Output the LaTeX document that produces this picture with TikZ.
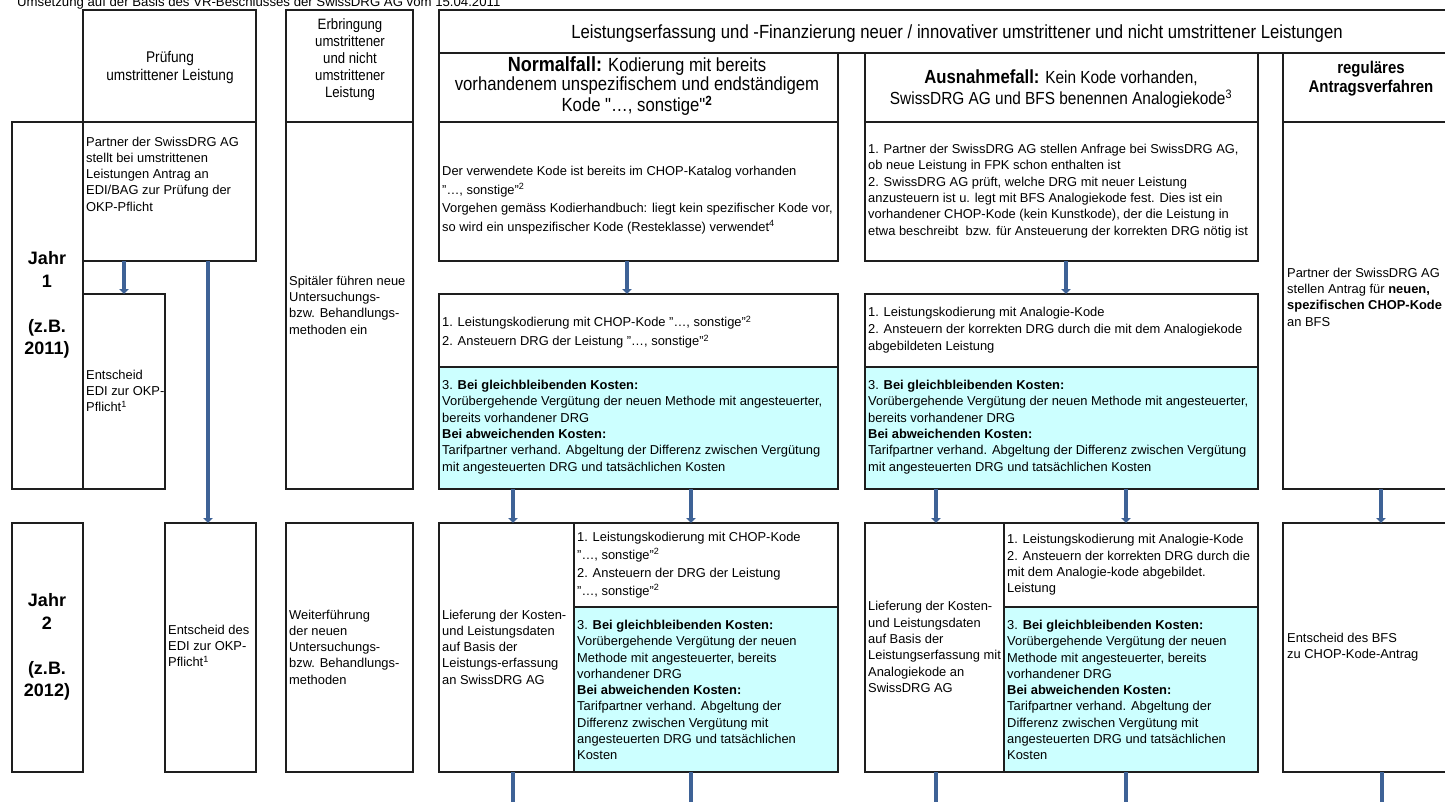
\documentclass[tikz,border=0pt]{standalone}
\usepackage{fontspec}
\setmainfont{Liberation Sans}
\newfontfamily\narrowfont[FakeStretch=0.88]{Liberation Sans}
\usetikzlibrary{arrows.meta,calc}
\definecolor{boxblue}{RGB}{204,255,255}
\definecolor{arrowblue}{RGB}{62,98,150}
\definecolor{lineclr}{RGB}{30,30,30}
\newcommand{\bodyf}{\fontsize{12.9pt}{16.3pt}\selectfont}
\newcommand{\headf}{\narrowfont\fontsize{15.5pt}{18pt}\selectfont}
\newcommand{\bx}[6][]{\node[box,#1,minimum width=#5pt,minimum height=#6pt] (#2) at (#3,#4) {};}
\begin{document}
\begin{tikzpicture}[x=1pt,y=-1pt,
  box/.style={draw=lineclr,line width=1.3pt,anchor=north west,inner sep=0pt,outer sep=0pt},
  txt/.style={anchor=west,align=left,inner sep=0pt,font=\bodyf},
  hdr/.style={anchor=center,align=center,inner sep=0pt,font=\headf},
  jahr/.style={anchor=center,align=center,inner sep=0pt,font=\bfseries\fontsize{18pt}{22.5pt}\selectfont},
  arr/.style={draw=arrowblue,line width=4.5pt,-{Triangle[width=9.5pt,length=5pt]}},
  arrline/.style={draw=arrowblue,line width=4.5pt}]
\useasboundingbox (0,0) rectangle (1445,801);
% title (cut at the top edge, as in the original)
\node[anchor=base west,inner sep=0pt,font=\fontsize{13.2pt}{15pt}\selectfont] (title) at (17,6) {Umsetzung auf der Basis des VR-Beschlusses der SwissDRG AG vom 15.04.2011};
% header boxes
\bx{hP}{83}{10}{173}{112}
\bx{hE}{286}{10}{127}{112}
\bx{hL}{439}{10}{1021}{43}
\bx{hN}{439}{53}{399}{69}
\bx{hA}{865}{53}{393}{69}
\bx{hR}{1283}{53}{177}{69}
% row 1
\bx{j1}{12}{122}{71}{367}
\bx{p1}{83}{122}{173}{139}
\bx{e1}{83}{294}{82}{195}
\bx{s1}{286}{122}{127}{367}
\bx{n1}{439}{122}{399}{139}
\bx{n2}{439}{294}{399}{73}
\bx[fill=boxblue]{n3}{439}{367}{399}{122}
\bx{a1}{865}{122}{393}{139}
\bx{a2}{865}{294}{393}{73}
\bx[fill=boxblue]{a3}{865}{367}{393}{122}
\bx{r1}{1283}{122}{177}{367}
% row 2
\bx{j2}{12}{523}{71}{249}
\bx{e2}{165}{523}{91}{249}
\bx{w2}{286}{523}{127}{249}
\bx{nl}{439}{523}{135}{249}
\bx{nw}{574}{523}{264}{84}
\bx[fill=boxblue]{nb}{574}{607}{264}{165}
\bx{al}{865}{523}{139}{249}
\bx{aw}{1004}{523}{254}{84}
\bx[fill=boxblue]{ab}{1004}{607}{254}{165}
\bx{r2}{1283}{523}{177}{249}
% header texts
\node[hdr] (tP) at (170,67) {Prüfung\\umstrittener Leistung};
\node[hdr,font=\narrowfont\fontsize{15pt}{17pt}\selectfont] (tE) at (350,60) {Erbringung\\umstrittener\\und nicht\\umstrittener\\Leistung};
\node[hdr,font=\narrowfont\fontsize{19pt}{20pt}\selectfont] (tL) at (957,34) {Leistungserfassung und -Finanzierung neuer / innovativer umstrittener und nicht umstrittener Leistungen};
\node[hdr,font=\narrowfont\fontsize{19pt}{19.5pt}\selectfont] (tN) at (637,86) {{\bfseries\fontsize{20.5pt}{19.5pt}\selectfont Normalfall:} Kodierung mit bereits\\vorhandenem unspezifischem und endständigem\\Kode "…, sonstige"\textsuperscript{\bfseries 2}};
\node[hdr,font=\narrowfont\fontsize{17.5pt}{21pt}\selectfont] (tA) at (1061,89) {{\bfseries\fontsize{19pt}{21pt}\selectfont Ausnahmefall:} Kein Kode vorhanden,\\SwissDRG AG und BFS benennen Analogiekode\textsuperscript{3}};
\node[hdr,font=\narrowfont\bfseries\fontsize{17pt}{19pt}\selectfont] (tR) at (1371,79) {reguläres\\Antragsverfahren};
% Jahr
\node[jahr] (tJ1) at (47,305) {Jahr\\1\\[22.5pt](z.B.\\2011)};
\node[jahr] (tJ2) at (47,647) {Jahr\\2\\[22.5pt](z.B.\\2012)};
% row 1 texts
\node[txt] (tp1) at (86,174) {Partner der SwissDRG AG\\stellt bei umstrittenen\\Leistungen Antrag an\\EDI/BAG zur Prüfung der\\OKP-Pflicht};
\node[txt] (te1) at (86,391) {Entscheid\\EDI zur OKP-\\Pflicht\textsuperscript{1}};
\node[txt] (ts1) at (289,305) {Spitäler führen neue\\Untersuchungs-\\bzw. Behandlungs-\\methoden ein};
\node[txt,font=\fontsize{12.9pt}{18.5pt}\selectfont] (tn1) at (442,200) {Der verwendete Kode ist bereits im CHOP-Katalog vorhanden\\"…, sonstige"\textsuperscript{2}\\Vorgehen gemäss Kodierhandbuch: liegt kein spezifischer Kode vor,\\so wird ein unspezifischer Kode (Resteklasse) verwendet\textsuperscript{4}};
\node[txt,font=\fontsize{12.9pt}{19pt}\selectfont] (tn2) at (442,332) {1. Leistungskodierung mit CHOP-Kode "…, sonstige"\textsuperscript{2}\\2. Ansteuern DRG der Leistung "…, sonstige"\textsuperscript{2}};
\node[txt] (tn3) at (442,427) {3. \textbf{Bei gleichbleibenden Kosten:}\\Vorübergehende Vergütung der neuen Methode mit angesteuerter,\\bereits vorhandener DRG\\\textbf{Bei abweichenden Kosten:}\\Tarifpartner verhand. Abgeltung der Differenz zwischen Vergütung\\mit angesteuerten DRG und tatsächlichen Kosten};
\node[txt] (ta1) at (868,191) {1. Partner der SwissDRG AG stellen Anfrage bei SwissDRG AG,\\ob neue Leistung in FPK schon enthalten ist\\2. SwissDRG AG prüft, welche DRG mit neuer Leistung\\anzusteuern ist u. legt mit BFS Analogiekode fest. Dies ist ein\\vorhandener CHOP-Kode (kein Kunstkode), der die Leistung in\\etwa beschreibt\ \ bzw. für Ansteuerung der korrekten DRG nötig ist};
\node[txt,font=\fontsize{12.9pt}{17pt}\selectfont] (ta2) at (868,330) {1. Leistungskodierung mit Analogie-Kode\\2. Ansteuern der korrekten DRG durch die mit dem Analogiekode\\abgebildeten Leistung};
\node[txt] (ta3) at (868,427) {3. \textbf{Bei gleichbleibenden Kosten:}\\Vorübergehende Vergütung der neuen Methode mit angesteuerter,\\bereits vorhandener DRG\\\textbf{Bei abweichenden Kosten:}\\Tarifpartner verhand. Abgeltung der Differenz zwischen Vergütung\\mit angesteuerten DRG und tatsächlichen Kosten};
\node[txt] (tr1) at (1287,297) {Partner der SwissDRG AG\\stellen Antrag für \textbf{neuen,}\\\textbf{spezifischen CHOP-Kode}\\an BFS};
% row 2 texts
\node[txt] (te2) at (168,646) {Entscheid des\\EDI zur OKP-\\Pflicht\textsuperscript{1}};
\node[txt] (tw2) at (289,647) {Weiterführung\\der neuen\\Untersuchungs-\\bzw. Behandlungs-\\methoden};
\node[txt] (tnl) at (442,647) {Lieferung der Kosten-\\und Leistungsdaten\\auf Basis der\\Leistungs-erfassung\\an SwissDRG AG};
\node[txt,font=\fontsize{12.9pt}{18pt}\selectfont] (tnw) at (577,565) {1. Leistungskodierung mit CHOP-Kode\\"…, sonstige"\textsuperscript{2}\\2. Ansteuern der DRG der Leistung\\"…, sonstige"\textsuperscript{2}};
\node[txt] (tnb) at (577,690) {3. \textbf{Bei gleichbleibenden Kosten:}\\Vorübergehende Vergütung der neuen\\Methode mit angesteuerter, bereits\\vorhandener DRG\\\textbf{Bei abweichenden Kosten:}\\Tarifpartner verhand. Abgeltung der\\Differenz zwischen Vergütung mit\\angesteuerten DRG und tatsächlichen\\Kosten};
\node[txt] (tal) at (868,647) {Lieferung der Kosten-\\und Leistungsdaten\\auf Basis der\\Leistungserfassung mit\\Analogiekode an\\SwissDRG AG};
\node[txt] (taw) at (1007,565) {1. Leistungskodierung mit Analogie-Kode\\2. Ansteuern der korrekten DRG durch die\\mit dem Analogie-kode abgebildet.\\Leistung};
\node[txt] (tab) at (1007,690) {3. \textbf{Bei gleichbleibenden Kosten:}\\Vorübergehende Vergütung der neuen\\Methode mit angesteuerter, bereits\\vorhandener DRG\\\textbf{Bei abweichenden Kosten:}\\Tarifpartner verhand. Abgeltung der\\Differenz zwischen Vergütung mit\\angesteuerten DRG und tatsächlichen\\Kosten};
\node[txt] (tr2) at (1287,647) {Entscheid des BFS\\zu CHOP-Kode-Antrag};
% arrows
\coordinate (xE2) at ($(e2.north)+(-2.5,0)$);
\coordinate (xN2) at ($(n2.north)+(-11.5,0)$);
\coordinate (xA2) at ($(a2.north)+(4.5,0)$);
\coordinate (xNL) at ($(nl.north)+(6.5,0)$);
\coordinate (xNW) at ($(nw.north)+(-15,0)$);
\coordinate (xAL) at ($(al.north)+(1.5,0)$);
\coordinate (xAW) at ($(aw.north)+(-5,0)$);
\coordinate (xR2) at ($(r2.north)+(9.5,0)$);
\draw[arr] (e1.north |- p1.south) -- (e1.north);
\draw[arr] (xE2 |- p1.south) -- (xE2);
\draw[arr] (xN2 |- n1.south) -- (xN2 |- n2.north);
\draw[arr] (xA2 |- a1.south) -- (xA2 |- a2.north);
\draw[arr] (xNL |- n3.south) -- (xNL);
\draw[arr] (xNW |- n3.south) -- (xNW);
\draw[arr] (xAL |- a3.south) -- (xAL);
\draw[arr] (xAW |- a3.south) -- (xAW);
\draw[arr] (xR2 |- r1.south) -- (xR2);
% bottom continuation lines
\coordinate (bNL) at (513,806);
\coordinate (bNW) at (691,806);
\coordinate (bAL) at (936,806);
\coordinate (bAW) at (1126,806);
\coordinate (bR) at (1382,806);
\draw[arrline] (bNL |- nl.south) -- (bNL);
\draw[arrline] (bNW |- nb.south) -- (bNW);
\draw[arrline] (bAL |- al.south) -- (bAL);
\draw[arrline] (bAW |- ab.south) -- (bAW);
\draw[arrline] (bR |- r2.south) -- (bR);
\end{tikzpicture}
\end{document}
